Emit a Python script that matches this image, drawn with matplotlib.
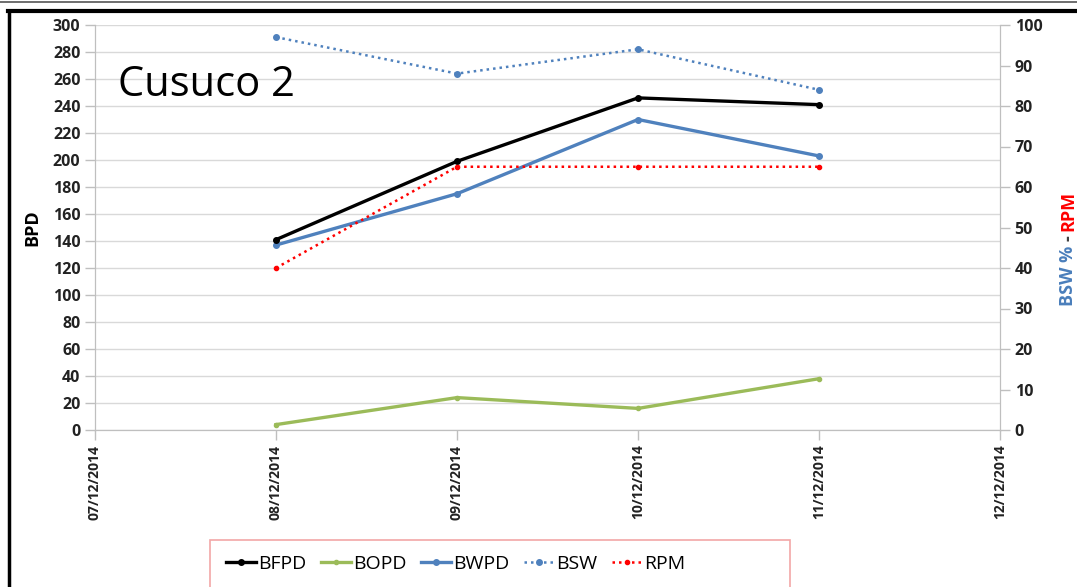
import datetime as dt
import matplotlib
matplotlib.use("Agg")
import matplotlib.pyplot as plt
import matplotlib.dates as mdates
from matplotlib.lines import Line2D
from matplotlib.patches import Rectangle

# ---- data ----
dates = ["08/12/2014", "09/12/2014", "10/12/2014", "11/12/2014"]
bfpd = [141, 199, 246, 241]
bopd = [4, 24, 16, 38]
bwpd = [137, 175, 230, 203]
bsw = [97, 88, 94, 84]      # right axis, %
rpm = [40, 65, 65, 65]      # right axis

x_start, x_end = "07/12/2014", "12/12/2014"

def d(s):
    return dt.datetime.strptime(s, "%d/%m/%Y")

x = [d(s) for s in dates]

plt.rcParams["font.family"] = ["Open Sans", "DejaVu Sans"]

fig = plt.figure(figsize=(10.77, 5.87), dpi=100)
ax = fig.add_axes([95 / 1077, 1 - 430 / 587, 905 / 1077, 405 / 587])
ax2 = ax.twinx()

grey = "#bfbfbf"
c_blue = "#4F81BD"
c_green = "#9BBB59"

ax.set_ylim(0, 300)
ax.set_yticks(range(0, 301, 20))
ax.set_xlim(d(x_start), d(x_end))
ax.xaxis.set_major_locator(mdates.DayLocator())
ax.xaxis.set_major_formatter(mdates.DateFormatter("%d/%m/%Y"))
ax.grid(axis="y", color="#d9d9d9", lw=1)
ax.set_axisbelow(True)

ax2.set_ylim(0, 100)
ax2.set_yticks(range(0, 101, 10))

for a in (ax, ax2):
    a.spines["top"].set_visible(False)
    for side in ("left", "right", "bottom"):
        a.spines[side].set_color(grey)
    a.tick_params(color=grey, length=7, width=1, labelcolor="#222222")

for lbl in ax.get_yticklabels() + ax2.get_yticklabels():
    lbl.set_fontweight("bold")
    lbl.set_fontsize(11.5)
for lbl in ax.get_xticklabels():
    lbl.set_fontweight("bold")
    lbl.set_fontsize(10)
    lbl.set_rotation(90)

ax.plot(x, bfpd, color="black", lw=2.4, marker="o", ms=4, label="BFPD", zorder=5)
ax.plot(x, bopd, color=c_green, lw=2.4, marker="o", ms=3, label="BOPD", zorder=4)
ax.plot(x, bwpd, color=c_blue, lw=2.4, marker="o", ms=4, label="BWPD", zorder=4)
l_bsw, = ax2.plot(x, bsw, color=c_blue, lw=1.8, ls=(0, (1, 1.6)), marker="o", ms=4, label="BSW")
l_rpm, = ax2.plot(x, rpm, color="red", lw=1.8, ls=(0, (1, 1.6)), marker="o", ms=3, label="RPM")

ax.set_ylabel("BPD", fontsize=13, fontweight="bold", labelpad=8)
ax.text(0.025, 0.825, "Cusuco 2", transform=ax.transAxes, fontsize=30, color="black")

# right axis label in two colours
fig.canvas.draw()
r = fig.canvas.get_renderer()
xr = 1068 / 1077
t1 = fig.text(xr, 1 - 306 / 587, "BSW %", rotation=90, ha="center", va="bottom",
              fontsize=13, fontweight="bold", color="#4a7ebb")
bb = t1.get_window_extent(r).transformed(fig.transFigure.inverted())
t2 = fig.text(xr, bb.y1 + 0.008, "-", rotation=90, ha="center", va="bottom",
              fontsize=13, fontweight="bold", color="#404040")
bb = t2.get_window_extent(r).transformed(fig.transFigure.inverted())
fig.text(xr, bb.y1 + 0.008, "RPM", rotation=90, ha="center", va="bottom",
         fontsize=13, fontweight="bold", color="red")

# legend box (runs off the bottom edge in the original)
fig.add_artist(Rectangle((210 / 1077, -0.05), 580 / 1077, 0.05 + 47 / 587,
                         transform=fig.transFigure, facecolor="white",
                         edgecolor="#f2a7a7", lw=1.2))
handles = ax.get_lines()[:3] + [l_bsw, l_rpm]
fig.legend(handles=handles, loc="center left", bbox_to_anchor=(218 / 1077, 1 - 564 / 587),
           borderaxespad=0, ncol=5, fontsize=14, frameon=False,
           handlelength=1.55, handletextpad=0.1, columnspacing=0.75)

# outer frame of the picture
fig.add_artist(Line2D([0, 1], [1 - 1.5 / 587] * 2, color="#555555", lw=1.2))
fig.add_artist(Line2D([8 / 1077, 1], [1 - 11 / 587] * 2, color="black", lw=3))
fig.add_artist(Line2D([9 / 1077] * 2, [0, 1 - 11 / 587], color="black", lw=2.5))

fig.savefig("out.png", dpi=100)
